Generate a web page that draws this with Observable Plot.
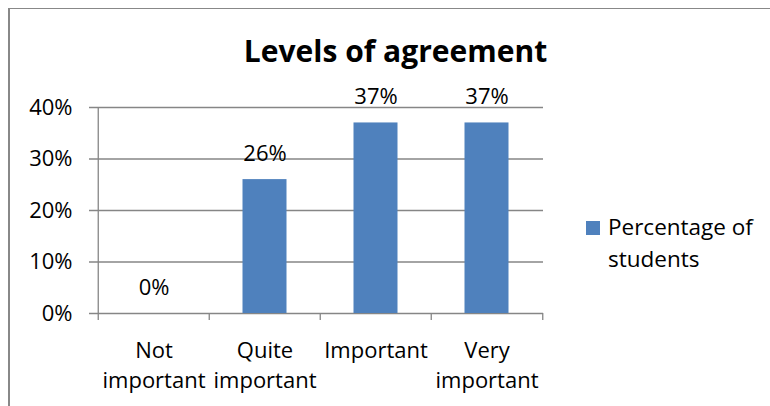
<!DOCTYPE html>
<html><head><meta charset="utf-8">
<script src="https://cdn.jsdelivr.net/npm/d3@7"></script>
<script src="https://cdn.jsdelivr.net/npm/@observablehq/plot@0.6"></script>
<style>
html,body{margin:0;padding:0;background:#fff;}
body{width:770px;height:406px;overflow:hidden;position:relative;font-family:"Open Sans",sans-serif;color:#000;}
#frame{position:absolute;left:8px;top:8px;width:900px;height:600px;border-left:2px solid #888;border-top:1px solid #888;box-sizing:border-box;}
#title{position:absolute;left:0;width:791px;top:36px;text-align:center;font-weight:700;font-size:30px;line-height:30px;}
#chart{position:absolute;left:0;top:0;}
#swatch{position:absolute;left:586px;top:221px;width:14px;height:14px;background:#4F81BD;}
#legtext{position:absolute;left:608px;top:211px;width:160px;font-size:22.5px;line-height:32px;}
</style>
</head><body>
<div id="frame"></div>
<div id="chart"></div>
<div id="title"></div>
<div id="swatch"></div>
<div id="legtext"></div>
<script>
const title = "Levels of agreement";
const seriesName = "Percentage of students";
const categories = ["Not important", "Quite important", "Important", "Very important"];
const tickLabels = ["Not\nimportant", "Quite\nimportant", "Important", "Very\nimportant"];
const values = [0, 0.26, 0.37, 0.37];
const yTicks = [0, 0.1, 0.2, 0.3, 0.4];

const data = categories.map((c, i) => ({category: c, value: values[i], label: tickLabels[i]}));

const W = 770, H = 406;
const mL = 97, mR = 227, mT = 107, mB = 93;
const step = (W - mL - mR) / categories.length;
const gray = "#868686";
const barColor = "#4F81BD";
const pct = d3.format(".0%");

document.getElementById("title").textContent = title;
document.getElementById("legtext").textContent = seriesName;

const chart = Plot.plot({
  width: W, height: H,
  marginLeft: mL, marginRight: mR, marginTop: mT, marginBottom: mB,
  style: {fontFamily: "Open Sans", fontSize: "22px", color: "#000", background: "transparent"},
  x: {domain: categories, padding: 0, axis: null},
  y: {domain: [0, 0.4], ticks: yTicks, tickFormat: pct, label: null},
  marks: [
    Plot.ruleY(yTicks, {y: d => d, stroke: gray, strokeWidth: 1.3, insetLeft: -8}),
    Plot.barY(data, {x: "category", y: "value", fill: barColor, insetLeft: 33.5, insetRight: 33.5}),
    Plot.ruleX([categories[0]], {x: d => d, y1: 0, y2: 0.4, dx: -step / 2, stroke: gray, strokeWidth: 1.3}),
    Plot.ruleX(categories, {x: d => d, y1: 0, y2: 0, dx: -step / 2, insetBottom: -7, stroke: gray, strokeWidth: 1.3}),
    Plot.ruleX([categories[categories.length - 1]], {x: d => d, y1: 0, y2: 0, dx: step / 2, insetBottom: -7, stroke: gray, strokeWidth: 1.3}),
    Plot.axisY({ticks: yTicks, tickFormat: pct, tickSize: 0, tickPadding: 25, fontSize: 22, label: null}),
    Plot.text(data, {x: "category", y: "value", text: d => pct(d.value), lineAnchor: "bottom", dy: -19, fontSize: 22, fill: "#000"}),
    Plot.text(data, {x: "category", y: () => 0, text: "label", lineAnchor: "top", dy: 23, lineHeight: 1.37, fontSize: 22, fill: "#000"})
  ]
});
document.getElementById("chart").appendChild(chart);
</script>
</body></html>
